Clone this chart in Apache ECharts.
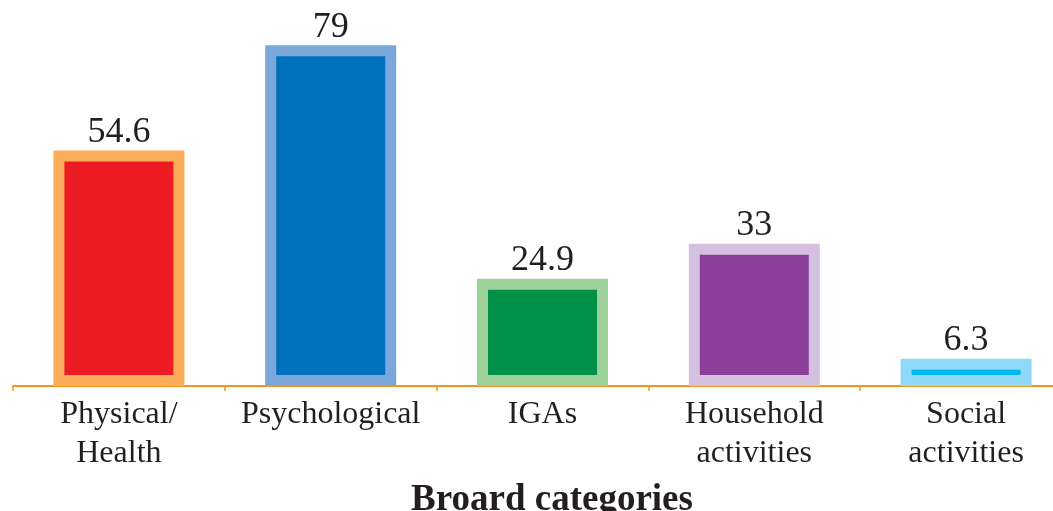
<!DOCTYPE html>
<html>
<head>
<meta charset="utf-8">
<script src="https://cdn.jsdelivr.net/npm/echarts@6/dist/echarts.min.js"></script>
<style>
  html, body { margin: 0; padding: 0; background: #fff; overflow: hidden; }
  /* the last category runs past the right edge in the original, so the chart is a bit wider than the window */
  #main { width: 1072px; height: 511px; }
</style>
</head>
<body>
<div id="main"></div>
<script>
  // data
  var categories = ['Physical/\nHealth', 'Psychological', 'IGAs', 'Household\nactivities', 'Social\nactivities'];
  var values = [54.6, 79, 24.9, 33, 6.3];
  var fillColors = ['#ed1c24', '#0071bc', '#009048', '#8b3f98', '#00b9f2'];
  var borderColors = ['#fbad5a', '#7ba7db', '#9dd39a', '#d5c0e0', '#8ed8f8'];

  var myChart = echarts.init(document.getElementById('main'));

  var option = {
    animation: false,
    title: {
      text: 'Broard categories',
      left: 547,
      textAlign: 'center',
      top: 477,
      textStyle: { fontFamily: 'Liberation Serif', fontWeight: 'bold', fontSize: 37, color: '#231f20' }
    },
    grid: { left: 13, right: 0, top: 19.5, bottom: 125 },
    xAxis: {
      type: 'category',
      data: categories,
      axisLine: { lineStyle: { color: '#f7941d', width: 2 } },
      axisTick: { show: true, length: 5, lineStyle: { color: '#f7941d', width: 1.5 } },
      axisLabel: {
        interval: 0, margin: 9,
        fontFamily: 'Liberation Serif', fontSize: 32, lineHeight: 39, color: '#231f20'
      }
    },
    yAxis: {
      type: 'value', min: 0, max: 85,
      show: false, splitLine: { show: false }
    },
    series: [{
      type: 'bar',
      barWidth: 131,
      data: values.map(function (v, i) {
        return {
          value: v,
          itemStyle: { color: fillColors[i], borderColor: borderColors[i], borderWidth: 11 }
        };
      }),
      label: {
        show: true, position: 'top', distance: 0,
        fontFamily: 'Liberation Serif', fontSize: 36, color: '#231f20'
      }
    }]
  };

  myChart.setOption(option);
</script>
</body>
</html>
